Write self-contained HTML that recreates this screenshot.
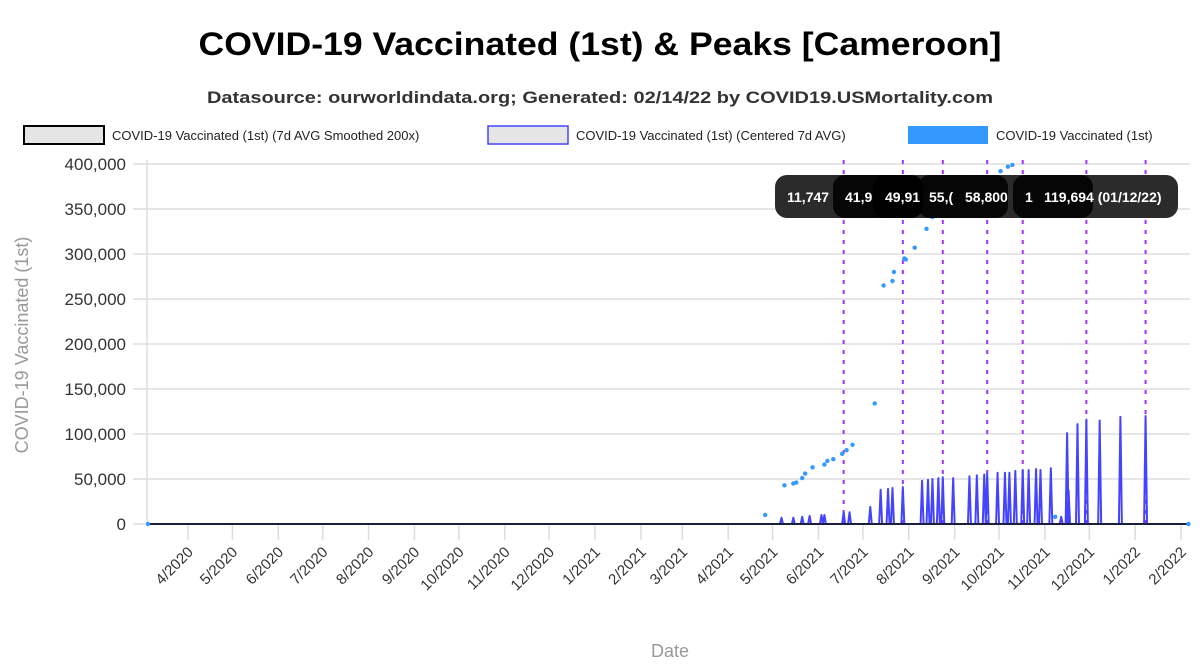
<!DOCTYPE html>
<html><head><meta charset="utf-8"><style>
body{margin:0;background:#fff;}
svg{font-family:"Liberation Sans",Arial,sans-serif;display:block;}
</style></head><body>
<svg id="chart" width="1200" height="670">
<text x="600" y="55" text-anchor="middle" font-size="32" font-weight="bold" textLength="803" lengthAdjust="spacingAndGlyphs">COVID-19 Vaccinated (1st) &amp; Peaks [Cameroon]</text>
<text x="600" y="103" text-anchor="middle" font-size="17" font-weight="bold" fill="#333" textLength="786" lengthAdjust="spacingAndGlyphs">Datasource: ourworldindata.org; Generated: 02/14/22 by COVID19.USMortality.com</text>
<g>
<g><rect x="24" y="126" width="80" height="18" fill="#e5e5e5" stroke="#000" stroke-width="2"/><text x="112" y="140" font-size="13" fill="#222">COVID-19 Vaccinated (1st) (7d AVG Smoothed 200x)</text></g>
<g><rect x="488" y="126" width="80" height="18" fill="#e5e5e5" stroke="#4444ff" stroke-width="1.5"/><text x="576" y="140" font-size="13" fill="#222">COVID-19 Vaccinated (1st) (Centered 7d AVG)</text></g>
<g><rect x="908" y="126" width="80" height="18" fill="#3399ff"/><text x="996" y="140" font-size="13" fill="#222">COVID-19 Vaccinated (1st)</text></g>
</g>
<g id="grid"></g><g id="axes"></g><g id="marks"></g><g id="tip"></g>
<text x="670" y="657" text-anchor="middle" font-size="18" fill="#999">Date</text>
<text transform="translate(28,345) rotate(-90)" text-anchor="middle" font-size="18" fill="#999">COVID-19 Vaccinated (1st)</text>
</svg>
<script>
const yTicks=[0,50000,100000,150000,200000,250000,300000,350000,400000];
const xTickLabels=["4/2020","5/2020","6/2020","7/2020","8/2020","9/2020","10/2020","11/2020","12/2020","1/2021","2/2021","3/2021","4/2021","5/2021","6/2021","7/2021","8/2021","9/2021","10/2021","11/2021","12/2021","1/2022","2/2022"];
const dotDates=["2020-03-05","2021-04-26","2021-05-09","2021-05-15","2021-05-17","2021-05-21","2021-05-23","2021-05-28","2021-06-05","2021-06-07","2021-06-11","2021-06-17","2021-06-20","2021-06-24","2021-07-09","2021-07-15","2021-07-21","2021-07-22","2021-07-29","2021-07-30","2021-08-05","2021-08-13","2021-08-17","2021-10-02","2021-10-07","2021-10-10","2021-11-08","2022-02-06"];
const dotValues=[0,10000,43000,45000,46000,51000,56000,63000,66000,70000,72000,78000,82000,88000,134000,265000,270000,280000,295000,294000,307000,328000,341000,392000,397000,399000,8000,0];
const spikeDates=["2021-05-07","2021-05-15","2021-05-21","2021-05-26","2021-06-03","2021-06-05","2021-06-18","2021-06-22","2021-07-06","2021-07-13","2021-07-18","2021-07-21","2021-07-28","2021-08-10","2021-08-14","2021-08-17","2021-08-21","2021-08-24","2021-08-31","2021-09-11","2021-09-16","2021-09-21","2021-09-23","2021-09-30","2021-10-05","2021-10-08","2021-10-12","2021-10-17","2021-10-21","2021-10-26","2021-10-29","2021-11-05","2021-11-12","2021-11-16","2021-11-17","2021-11-23","2021-11-29","2021-12-08","2021-12-22","2022-01-08"];
const spikeValues=[7000,7000,8000,9000,10000,10000,13000,13000,19000,38000,39000,40000,41000,48000,49000,50000,51000,52000,51000,53000,54000,55000,56000,57000,57000,57000,59000,60000,60000,61000,60000,62000,8000,101000,37000,111000,116000,115000,119000,120000];
const peakDates=["2021-06-18","2021-07-28","2021-08-24","2021-09-23","2021-10-17","2021-11-29","2022-01-08"];
const tipLabels=["11,747","41,9","49,91","55,(","58,800","1","119,694 (01/12/22)"];

const NS="http://www.w3.org/2000/svg";
const X0=147,X1=1190,Y0=524;
const base=Date.UTC(2020,3,1);
function dayOf(s){const p=s.split("-");return (Date.UTC(+p[0],+p[1]-1,+p[2])-base)/864e5;}
function xs(d){return 188+d*1.48;}
function ys(v){return Y0-v*0.0009;}
function mk(tag,attrs,parent){const e=document.createElementNS(NS,tag);for(const k in attrs)e.setAttribute(k,attrs[k]);parent.appendChild(e);return e;}
const grid=document.getElementById("grid"),axes=document.getElementById("axes"),marks=document.getElementById("marks"),tip=document.getElementById("tip");
yTicks.forEach(v=>{
  const l=mk("line",{x1:133,x2:X1,y1:ys(v),y2:ys(v),stroke:"#ddd","stroke-width":1.5},grid);
  
  
  const t=mk("text",{x:126,y:ys(v)+6,"text-anchor":"end","font-size":17,fill:"#333"},axes);
  t.textContent=v.toLocaleString("en-US");
  
  
});
const vl=mk("line",{x1:X0,x2:X0,y1:160,y2:Y0,stroke:"#ddd","stroke-width":1.5},grid);


xTickLabels.forEach(lab=>{
  const p=lab.split("/");const d=dayOf(p[1]+"-"+p[0]+"-01");const x=xs(d);
  const tk=mk("line",{x1:x,x2:x,y1:Y0,y2:540,stroke:"#ddd","stroke-width":1.5},axes);
  
  
  const t=mk("text",{transform:`translate(${x+6},${553}) rotate(-45)`,"text-anchor":"end","font-size":15,fill:"#333"},axes);
  t.textContent=lab;
  
  
});
peakDates.forEach(s=>{
  const x=xs(dayOf(s));
  const l=mk("line",{x1:x,x2:x,y1:160,y2:Y0,stroke:"#a033ff","stroke-width":2,"stroke-dasharray":"4,6"},marks);
  
  
});
let pts=[[X0,Y0]];
spikeDates.forEach((s,i)=>{const d=dayOf(s);pts.push([xs(d-1),Y0],[xs(d),ys(spikeValues[i])],[xs(d+1),Y0]);});
pts.push([X1,Y0]);
const path=mk("polyline",{points:pts.map(p=>p.join(",")).join(" "),fill:"none",stroke:"#4444ff","stroke-width":2,"stroke-linejoin":"round"},marks);


const bl=mk("line",{x1:X0,x2:X1,y1:Y0,y2:Y0,stroke:"#1a1f40","stroke-width":2},marks);


dotDates.forEach((s,i)=>{
  const c=mk("circle",{cx:xs(dayOf(s)),cy:ys(dotValues[i]),r:2.2,fill:"#3399ff"},marks);
  
  
});
const tb=mk("rect",{x:775,y:175,width:403,height:43,rx:12,fill:"#2b2b2b"},tip);


[[833,90],[873,50],[918,90],[1013,80]].forEach(r=>{
  const rr=mk("rect",{x:r[0],y:175,width:r[1],height:43,rx:12,fill:"#000",opacity:0.85},tip);
  
  
});
const tx=[787,845,885,929,965,1025,1044];
tipLabels.forEach((s,i)=>{
  const t=mk("text",{x:tx[i],y:202,"font-size":14,"font-weight":"bold",fill:"#fff"},tip);
  t.textContent=s;
  
  
});
</script>
</body></html>
